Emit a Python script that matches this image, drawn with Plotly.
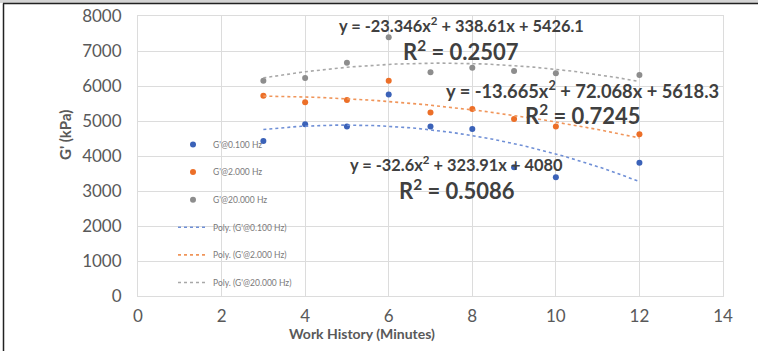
import numpy as np
import plotly.graph_objects as go

# ---- data ----
minutes = [3, 4, 5, 6, 7, 8, 9, 10, 12]
g_0100 = [4430, 4905, 4840, 5760, 4840, 4770, 3680, 3390, 3810]
g_2000 = [5720, 5535, 5600, 6150, 5240, 5340, 5060, 4840, 4620]
g_20000 = [6150, 6230, 6665, 7390, 6390, 6520, 6430, 6365, 6315]

series_names = ["G'@0.100 Hz", "G'@2.000 Hz", "G'@20.000 Hz"]
fit_names = ["Poly. (G'@0.100 Hz)", "Poly. (G'@2.000 Hz)", "Poly. (G'@20.000 Hz)"]
# printed trendline coefficients [a, b, c] for y = a x^2 + b x + c
coef_0100 = [-32.6, 323.91, 4080]
coef_2000 = [-13.665, 72.068, 5618.3]
coef_20000 = [-23.346, 338.61, 5426.1]
eq_text = ["y = -32.6x<sup>2</sup> + 323.91x + 4080",
           "y = -13.665x<sup>2</sup> + 72.068x + 5618.3",
           "y = -23.346x<sup>2</sup> + 338.61x + 5426.1"]
r2_text = ["R<sup>2</sup> = 0.5086", "R<sup>2</sup> = 0.7245", "R<sup>2</sup> = 0.2507"]

x_ticks = [0, 2, 4, 6, 8, 10, 12, 14]
y_ticks = [0, 1000, 2000, 3000, 4000, 5000, 6000, 7000, 8000]

colors = ["#3b62b8", "#ec6f28", "#8d8d8d"]
line_colors = ["#6f8fd6", "#f0955a", "#a8a8a8"]

# ---- layout geometry (pixels) ----
W, H = 758, 351
L, R, T, B = 138, 35, 16, 55
pw, ph = W - L - R, H - T - B

def px_x(px):
    return (px - L) / pw

def px_y(py):
    return (H - B - py) / ph

fig = go.Figure()
vals = [g_0100, g_2000, g_20000]
coefs = [coef_0100, coef_2000, coef_20000]

for i in range(3):
    fig.add_trace(go.Scatter(
        x=minutes, y=vals[i], mode="markers", name=series_names[i],
        marker=dict(color=colors[i], size=6), legendgroup="g%d" % i))

xf = np.linspace(min(minutes), max(minutes), 100)
for i in range(3):
    a, b, c = coefs[i]
    fig.add_trace(go.Scatter(
        x=xf, y=np.polyval([a, b, c], xf), mode="lines", name=fit_names[i],
        line=dict(color=line_colors[i], width=1.6, dash="dot"),
        legendgroup="f%d" % i))

def note(px, py, text, size, angle=0):
    fig.add_annotation(x=px_x(px), y=px_y(py), xref="paper", yref="paper",
                       xanchor="center", yanchor="middle", text=text, showarrow=False,
                       textangle=angle, font=dict(family="Lato", size=size, color="#404040"))

# annotations (equations)
eq_pos = [(457, 163), (582, 90), (461, 24)]
eq_size = [16.4, 18.3, 16.4]
r2_pos = [(457, 189), (583, 115), (461, 50)]
for i in range(3):
    note(eq_pos[i][0], eq_pos[i][1], "<b>%s</b>" % eq_text[i], eq_size[i])
    note(r2_pos[i][0], r2_pos[i][1], "<b>%s</b>" % r2_text[i], 22)

# axis titles
fig.add_annotation(x=px_x(65), y=px_y(135), xref="paper", yref="paper", xanchor="center",
                   yanchor="middle", text="<b>G' (kPa)</b>", textangle=-90, showarrow=False,
                   font=dict(family="Lato", size=15, color="#595959"))
fig.add_annotation(x=px_x(362), y=px_y(333), xref="paper", yref="paper", xanchor="center",
                   yanchor="middle", text="<b>Work History (Minutes)</b>", showarrow=False,
                   font=dict(family="Lato", size=14, color="#595959"))

# outer frame
fig.add_shape(type="rect", xref="paper", yref="paper", x0=px_x(0), x1=px_x(W), y0=px_y(3), y1=px_y(0),
              fillcolor="#d4d4d4", line=dict(width=0), layer="below")
fig.add_shape(type="line", xref="paper", yref="paper", x0=px_x(3), x1=px_x(W), y0=px_y(3.5), y1=px_y(3.5),
              line=dict(color="#222222", width=1.5))
fig.add_shape(type="line", xref="paper", yref="paper", x0=px_x(3.5), x1=px_x(3.5), y0=px_y(3.5), y1=px_y(H),
              line=dict(color="#222222", width=1.5))

grid = "#dcdcdc"
fig.update_layout(
    width=W, height=H, margin=dict(l=L, r=R, t=T, b=B, autoexpand=False),
    paper_bgcolor="white", plot_bgcolor="white",
    font=dict(family="Lato", color="#595959"),
    xaxis=dict(range=[0, 14], tickvals=x_ticks, showgrid=True, gridcolor=grid, gridwidth=1,
               zeroline=False, showline=True, linecolor=grid, mirror=True, automargin=False,
               tickfont=dict(size=17, color="#595959"), ticks="", ticklabelstandoff=5),
    yaxis=dict(range=[0, 8000], tickvals=y_ticks, showgrid=True, gridcolor=grid, gridwidth=1,
               zeroline=False, showline=True, linecolor=grid, mirror=True, automargin=False,
               tickfont=dict(size=17, color="#595959"), ticks="", ticklabelstandoff=12),
    legend=dict(x=px_x(173), y=px_y(130), xanchor="left", yanchor="top",
                bgcolor="rgba(0,0,0,0)", font=dict(size=8.5, color="#7a7a7a"),
                tracegroupgap=8.6, traceorder="grouped"),
    showlegend=True,
)

fig.write_html("out.html")
